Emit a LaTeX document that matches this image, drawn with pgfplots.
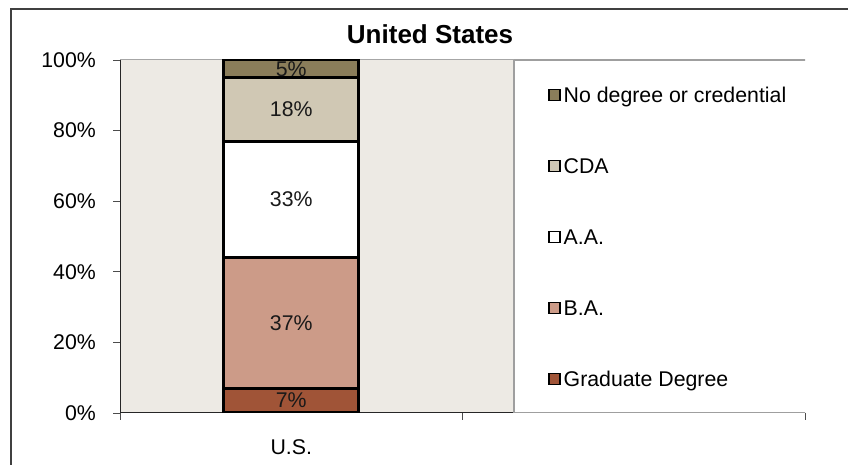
\documentclass[border=0pt]{standalone}
\usepackage{fontspec}
\setmainfont{Liberation Sans}
\usepackage{pgfplots}
\pgfplotsset{compat=1.18}
\definecolor{bgc}{HTML}{EDEAE4}
\definecolor{nodeg}{HTML}{8A7D5A}
\definecolor{cda}{HTML}{D0C8B4}
\definecolor{ba}{HTML}{CC9B88}
\definecolor{grad}{HTML}{A05437}
\definecolor{framec}{HTML}{404040}
\begin{document}
\begin{tikzpicture}[font=\fontsize{21.3}{25}\selectfont]
\useasboundingbox (0,0) rectangle (848pt,465pt);
\draw[framec, line width=1.5pt] (11pt,0pt) -- (11pt,456pt) -- (848pt,456pt);
\begin{axis}[
  at={(120pt,52pt)}, anchor=south west,
  scale only axis, width=685pt, height=353pt,
  xmin=0, xmax=2, ymin=0, ymax=100,
  ybar stacked, bar width=135pt,
  axis background/.style={fill=bgc},
  axis x line*=bottom, axis y line*=left,
  axis line style={black!85, line width=1pt},
  tick align=outside, major tick length=7pt,
  tick style={black!70, line width=0.8pt},
  xtick={0,1,2}, xticklabels={},
  extra x ticks={0.5}, extra x tick labels={U.S.},
  extra x tick style={major tick length=0pt, tick label style={yshift=-23pt}},
  ytick={0,20,40,60,80,100},
  yticklabel={\pgfmathprintnumber{\tick}\%},
  yticklabel style={anchor=east, inner sep=0pt, xshift=-17pt},
  /pgf/number format/assume math mode=true,
  point meta=explicit symbolic,
  nodes near coords,
  every node near coord/.append style={anchor=center, text=black!90},
  title={United States},
  title style={font=\bfseries\fontsize{26}{30}\selectfont, at={(axis description cs:0.4526,1.031)}, anchor=base},
  reverse legend,
  legend image code/.code={\draw[#1, line width=1.5pt] (0pt,-5.5pt) rectangle (11pt,5.5pt);},
  legend style={at={(axis description cs:0.6248,0.9221)}, anchor=north west,
    draw=none, fill=none, inner sep=0pt, row sep=55.9pt,
    font=\fontsize{21.3}{25}\selectfont,
    nodes={text height=15pt, text depth=0pt, inner ysep=0pt, inner xsep=3pt},
    cells={anchor=west}},
]
\addplot[fill=grad, draw=black, line width=3pt] coordinates {(0.5,7) [7\%]};
\addplot[fill=ba, draw=black, line width=3pt] coordinates {(0.5,37) [37\%]};
\addplot[fill=white, draw=black, line width=3pt] coordinates {(0.5,33) [33\%]};
\addplot[fill=cda, draw=black, line width=3pt] coordinates {(0.5,18) [18\%]};
\addplot[fill=nodeg, draw=black, line width=3pt] coordinates {(0.5,5) [5\%]};
\legend{Graduate Degree, B.A., A.A., CDA, No degree or credential}
\draw[gray!70, line width=1pt] (axis description cs:0,1) -- (axis description cs:0.5752,1);
\draw[gray!75, line width=1.2pt, fill=white] (axis description cs:0.5752,0) rectangle (axis description cs:1.0234,1);
\end{axis}
\end{tikzpicture}
\end{document}
